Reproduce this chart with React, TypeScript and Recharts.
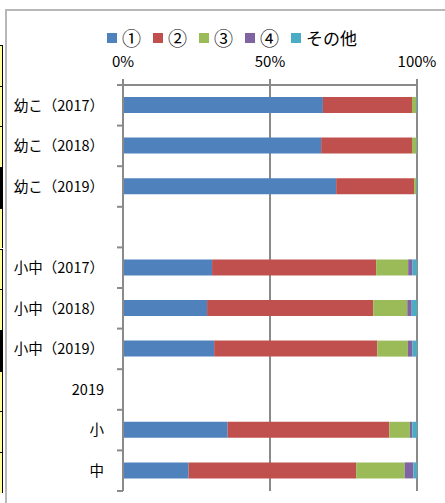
import { BarChart, Bar, XAxis, YAxis, CartesianGrid } from 'recharts'

// categories (top to bottom), blanks are spacer rows without bars
const categories = [
  '幼こ（2017）',
  '幼こ（2018）',
  '幼こ（2019）',
  '',
  '小中（2017）',
  '小中（2018）',
  '小中（2019）',
  '2019',
  '小',
  '中',
]

const seriesNames = ['①', '②', '③', '④', 'その他']
const seriesColors = ['#4F81BD', '#C0504D', '#9BBB59', '#8064A2', '#4BACC6']

// percentages
const answer1 = [68.0, 67.4, 72.5, null, 30.3, 28.6, 31.0, null, 35.6, 22.3]
const answer2 = [30.3, 30.9, 26.5, null, 55.8, 56.5, 55.5, null, 55.0, 57.0]
const answer3 = [1.5, 1.6, 0.8, null, 10.9, 11.6, 10.4, null, 7.0, 16.5]
const answer4 = [0, 0, 0, null, 1.5, 1.5, 1.6, null, 0.8, 3.0]
const others = [0.2, 0.1, 0.2, null, 1.5, 1.8, 1.5, null, 1.6, 1.2]

const xTicks = [0, 50, 100]

const seriesValues = [answer1, answer2, answer3, answer4, others]
const data = categories.map((name, i) => {
  const row: Record<string, any> = { name }
  seriesValues.forEach((vals, k) => {
    row['s' + k] = vals[i]
  })
  return row
})

const FONT = "'Noto Sans CJK JP', 'Noto Sans', sans-serif"
const AXIS = '#8a8a8a'
const W = 445
const H = 503
const M = { top: 55, right: 28, bottom: 12, left: 0 }
const X_AXIS_H = 30
const PLOT_H = H - M.top - M.bottom - X_AXIS_H
const BAND = PLOT_H / categories.length

function CategoryTick(props: any) {
  const { x, y, payload, index } = props
  return (
    <g>
      <line x1={x - 6} x2={x} y1={y - BAND / 2} y2={y - BAND / 2} stroke={AXIS} strokeWidth={2} />
      {index === categories.length - 1 && (
        <line x1={x - 6} x2={x} y1={y + BAND / 2} y2={y + BAND / 2} stroke={AXIS} strokeWidth={2} />
      )}
      <text x={x - 19} y={y} dy="0.36em" textAnchor="end" fontSize={14.5} fill="#000">
        {payload.value}
      </text>
    </g>
  )
}

const stripFills = ['#ffff99', '#ffff99', '#ffff99', '#000', '#ffff99', '#ffff99', '#ffff99', '#000', '#ffff99', '#ffff99', '#ffff99']

export default function App() {
  return (
    <div style={{ position: 'absolute', left: 0, top: 0, width: W, height: H, background: '#fff', overflow: 'hidden', fontFamily: FONT }}>
      {/* sliver of the spreadsheet behind the chart */}
      {stripFills.map((fill, i) => (
        <div
          key={i}
          style={{
            position: 'absolute',
            left: 0,
            top: 45 + i * 40.7,
            width: 3,
            height: 40.7,
            background: fill,
            borderTop: '1px solid #000',
            borderRight: '1px solid #000',
            boxSizing: 'border-box',
          }}
        />
      ))}
      <div
        style={{
          position: 'absolute',
          left: 5,
          top: 9,
          right: -2,
          bottom: -2,
          borderLeft: '2px solid #b8b8b8',
          borderTop: '2px solid #b8b8b8',
        }}
      />
      <div style={{ position: 'absolute', left: 107, top: 28, display: 'flex', alignItems: 'center', height: 20 }}>
        {seriesNames.map((name, i) => (
          <div key={name} style={{ display: 'flex', alignItems: 'center', marginRight: 12 }}>
            <span style={{ width: 10, height: 10, background: seriesColors[i], marginRight: 5 }} />
            <span style={{ fontSize: name.length === 1 ? 19 : 17, lineHeight: '20px', color: '#000' }}>{name}</span>
          </div>
        ))}
      </div>
      <div style={{ position: 'absolute', left: 0, top: 0 }}>
        <BarChart width={W} height={H} data={data} layout="vertical" margin={M} barSize={16} style={{ fontFamily: FONT }}>
          <CartesianGrid horizontal={false} vertical={true} stroke={AXIS} strokeWidth={2} strokeDasharray="" />
          <XAxis
            type="number"
            orientation="top"
            domain={[0, 100]}
            ticks={xTicks}
            tickFormatter={(v: number) => `${v}%`}
            height={X_AXIS_H}
            tickSize={6}
            tickMargin={12}
            axisLine={{ stroke: AXIS, strokeWidth: 2 }}
            tickLine={{ stroke: AXIS, strokeWidth: 2 }}
            tick={{ fill: '#000', fontSize: 15 }}
            allowDataOverflow
          />
          <YAxis
            type="category"
            dataKey="name"
            width={123}
            interval={0}
            tickSize={0}
            tickMargin={0}
            tickLine={false}
            axisLine={{ stroke: AXIS, strokeWidth: 2 }}
            tick={<CategoryTick />}
          />
          {seriesNames.map((name, k) => (
            <Bar key={name} dataKey={'s' + k} name={name} stackId="a" fill={seriesColors[k]} isAnimationActive={false} />
          ))}
        </BarChart>
      </div>
    </div>
  )
}
